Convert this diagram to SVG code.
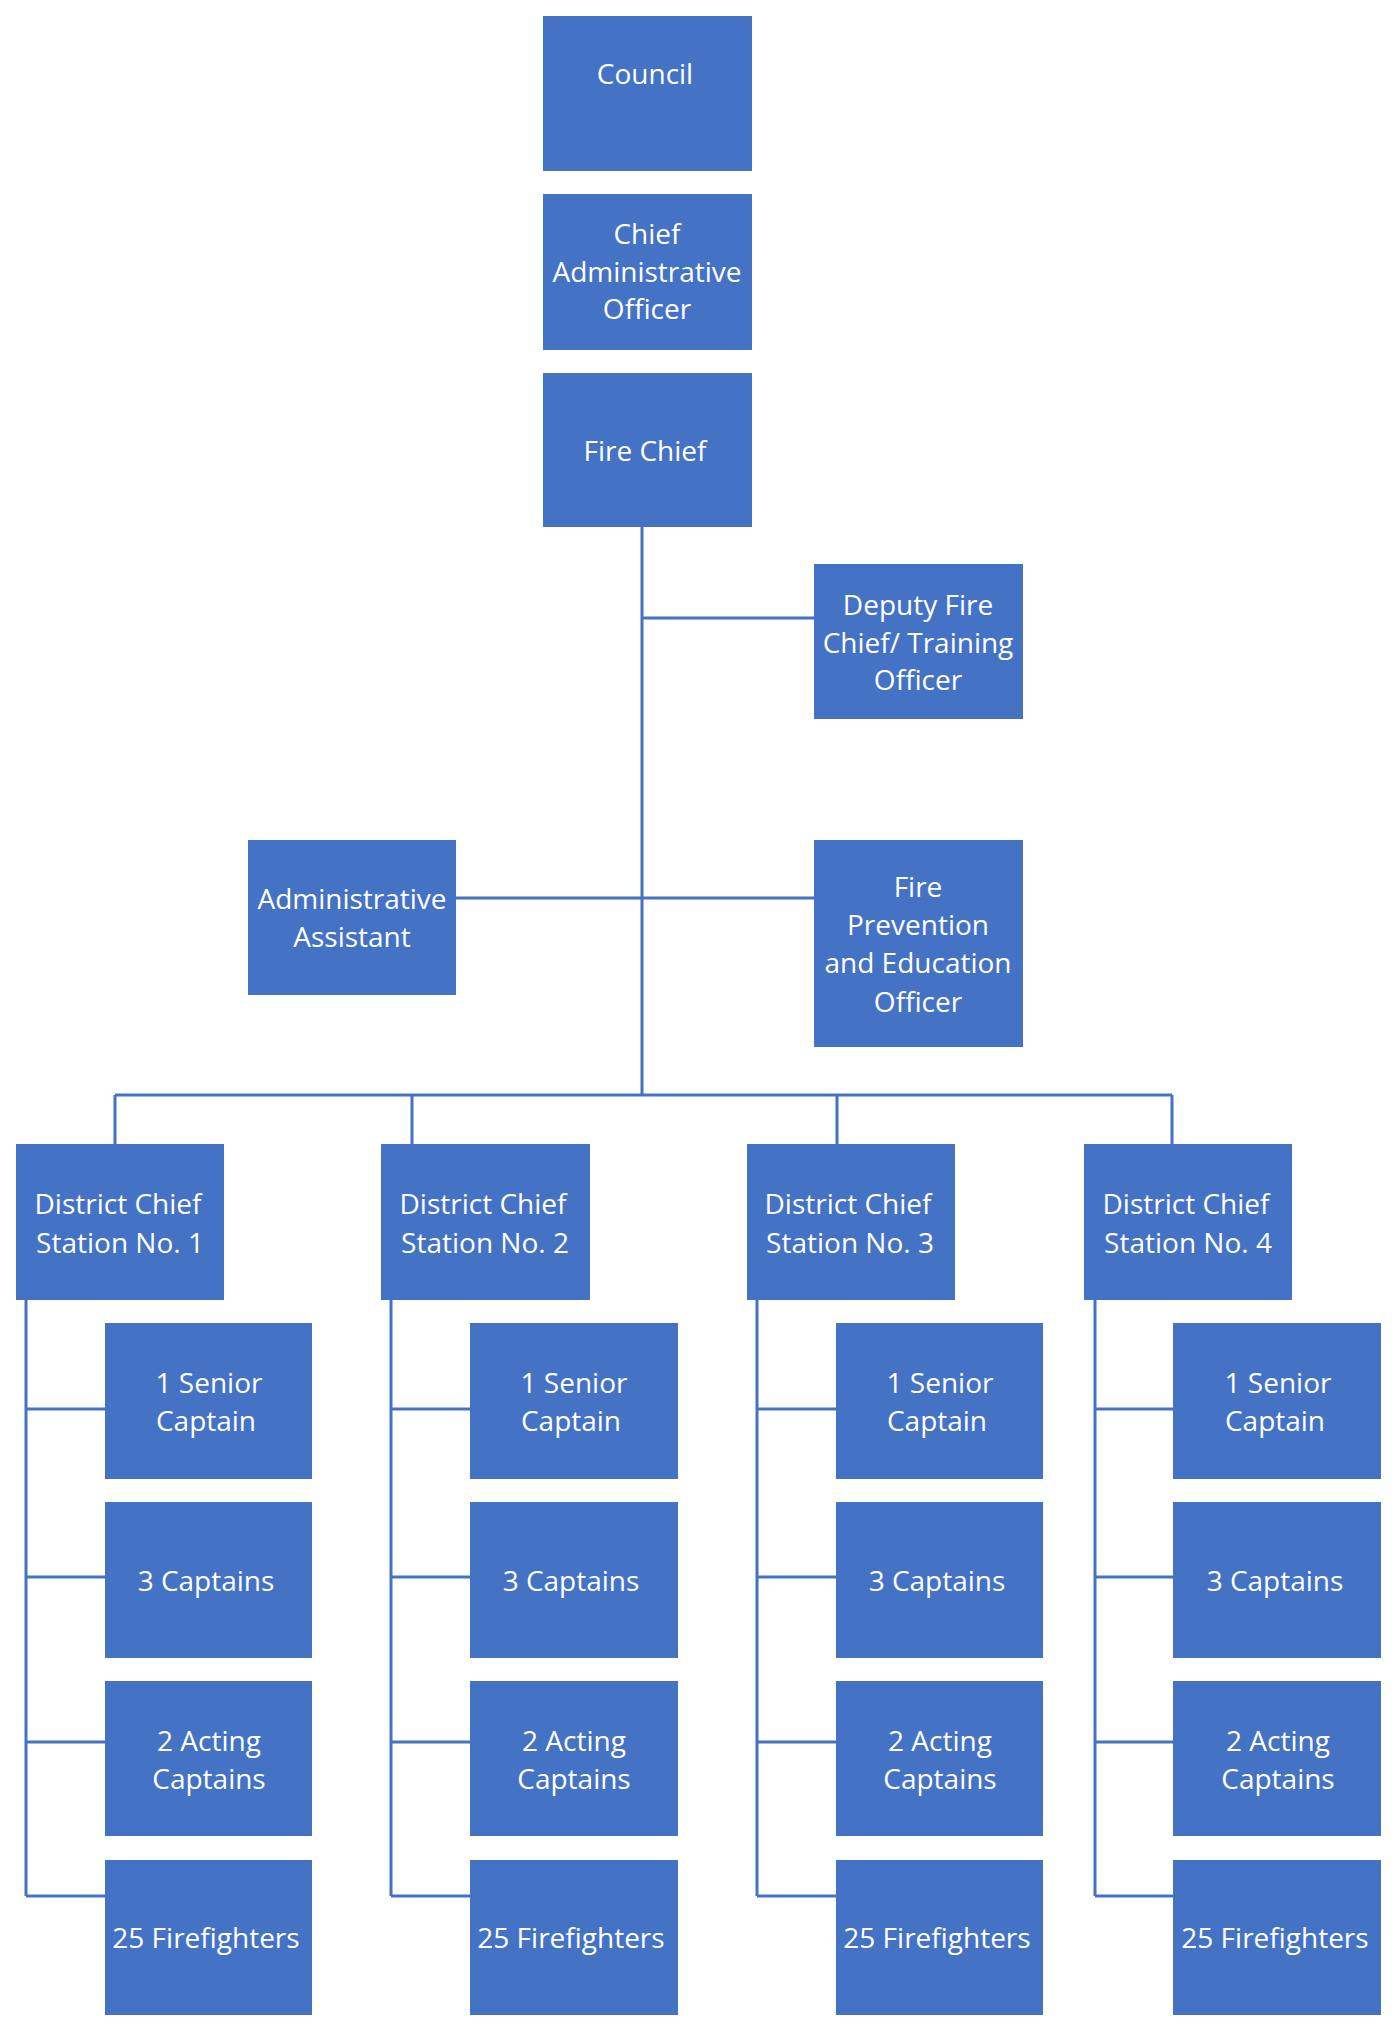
<svg xmlns="http://www.w3.org/2000/svg" width="1400" height="2025" viewBox="0 0 1400 2025">
<style>
rect{fill:#4472C4}
text{fill:#fff;font-family:"Open Sans","Liberation Sans",sans-serif;font-size:28px;text-anchor:middle;dominant-baseline:central}
.c{stroke:#4472C4;stroke-width:3;fill:none}
</style>
<rect width="1400" height="2025" style="fill:#fff"/>
<g id="connectors" class="c">
<path d="M642 527V1095M642 618H814M456 898H814M115 1095H1172M115 1095V1144M412 1095V1144M837 1095V1144M1172 1095V1144"/>
<path d="M26 1300V1896M26 1409H105M26 1577H105M26 1742H105M26 1896H105"/>
<path d="M391 1300V1896M391 1409H470M391 1577H470M391 1742H470M391 1896H470"/>
<path d="M757 1300V1896M757 1409H836M757 1577H836M757 1742H836M757 1896H836"/>
<path d="M1095 1300V1896M1095 1409H1173M1095 1577H1173M1095 1742H1173M1095 1896H1173"/>
</g>
<g id="council"><rect x="543" y="16" width="209" height="155"/><text x="645" y="73">Council</text></g>
<g id="cao"><rect x="543" y="194" width="209" height="156"/><text x="647" y="233">Chief</text><text x="647" y="271">Administrative</text><text x="647" y="308">Officer</text></g>
<g id="firechief"><rect x="543" y="373" width="209" height="154"/><text x="645" y="450">Fire Chief</text></g>
<g id="deputy"><rect x="814" y="564" width="209" height="155"/><text x="918" y="604">Deputy Fire</text><text x="918" y="642">Chief/ Training</text><text x="918" y="679">Officer</text></g>
<g id="admin"><rect x="248" y="840" width="208" height="155"/><text x="352" y="898">Administrative</text><text x="352" y="936">Assistant</text></g>
<g id="prevention"><rect x="814" y="840" width="209" height="207"/><text x="918" y="886">Fire</text><text x="918" y="924">Prevention</text><text x="918" y="962">and Education</text><text x="918" y="1001">Officer</text></g>
<g id="d1"><rect x="16" y="1144" width="208" height="156"/><text x="118" y="1203">District Chief</text><text x="120" y="1242">Station No. 1</text></g>
<g id="d2"><rect x="381" y="1144" width="209" height="156"/><text x="483" y="1203">District Chief</text><text x="485" y="1242">Station No. 2</text></g>
<g id="d3"><rect x="747" y="1144" width="208" height="156"/><text x="848" y="1203">District Chief</text><text x="850" y="1242">Station No. 3</text></g>
<g id="d4"><rect x="1084" y="1144" width="208" height="156"/><text x="1186" y="1203">District Chief</text><text x="1188" y="1242">Station No. 4</text></g>
<g id="s1"><rect x="105" y="1323" width="207" height="156"/><text x="209" y="1382">1 Senior</text><text x="206" y="1420">Captain</text></g>
<g id="c1"><rect x="105" y="1502" width="207" height="156"/><text x="206" y="1580">3 Captains</text></g>
<g id="a1"><rect x="105" y="1681" width="207" height="155"/><text x="209" y="1740">2 Acting</text><text x="209" y="1778">Captains</text></g>
<g id="f1"><rect x="105" y="1860" width="207" height="155"/><text x="206" y="1937">25 Firefighters</text></g>
<g id="s2"><rect x="470" y="1323" width="208" height="156"/><text x="574" y="1382">1 Senior</text><text x="571" y="1420">Captain</text></g>
<g id="c2"><rect x="470" y="1502" width="208" height="156"/><text x="571" y="1580">3 Captains</text></g>
<g id="a2"><rect x="470" y="1681" width="208" height="155"/><text x="574" y="1740">2 Acting</text><text x="574" y="1778">Captains</text></g>
<g id="f2"><rect x="470" y="1860" width="208" height="155"/><text x="571" y="1937">25 Firefighters</text></g>
<g id="s3"><rect x="836" y="1323" width="207" height="156"/><text x="940" y="1382">1 Senior</text><text x="937" y="1420">Captain</text></g>
<g id="c3"><rect x="836" y="1502" width="207" height="156"/><text x="937" y="1580">3 Captains</text></g>
<g id="a3"><rect x="836" y="1681" width="207" height="155"/><text x="940" y="1740">2 Acting</text><text x="940" y="1778">Captains</text></g>
<g id="f3"><rect x="836" y="1860" width="207" height="155"/><text x="937" y="1937">25 Firefighters</text></g>
<g id="s4"><rect x="1173" y="1323" width="208" height="156"/><text x="1278" y="1382">1 Senior</text><text x="1275" y="1420">Captain</text></g>
<g id="c4"><rect x="1173" y="1502" width="208" height="156"/><text x="1275" y="1580">3 Captains</text></g>
<g id="a4"><rect x="1173" y="1681" width="208" height="155"/><text x="1278" y="1740">2 Acting</text><text x="1278" y="1778">Captains</text></g>
<g id="f4"><rect x="1173" y="1860" width="208" height="155"/><text x="1275" y="1937">25 Firefighters</text></g>
</svg>
